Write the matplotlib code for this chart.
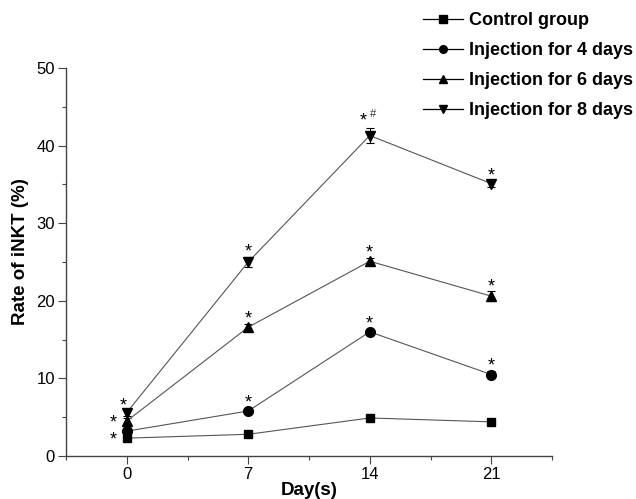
import matplotlib
matplotlib.use("Agg")
import matplotlib.pyplot as plt
from matplotlib.lines import Line2D

plt.rcParams['font.family'] = ['Liberation Sans', 'DejaVu Sans']

days = [0, 7, 14, 21]
labels = ["Control group", "Injection for 4 days", "Injection for 6 days", "Injection for 8 days"]
control = [2.3, 2.8, 4.9, 4.4]
inj4 = [3.2, 5.8, 16.0, 10.5]
inj6 = [4.5, 16.6, 25.1, 20.6]
inj8 = [5.6, 25.0, 41.3, 35.1]
err_control = [0.2, 0.2, 0.2, 0.2]
err4 = [0.3, 0.3, 0.3, 0.4]
err6 = [0.4, 0.4, 0.4, 0.6]
err8 = [0.4, 0.7, 1.0, 0.4]
markers = ["s", "o", "^", "v"]
msizes = [6, 7, 7.5, 7.5]

# significance marks: (series index, day index, text)
sig_marks = [
    (0, 0, "*"), (2, 0, "*"), (3, 0, "*"),
    (1, 1, "*"), (2, 1, "*"), (3, 1, "*"),
    (1, 2, "*"), (2, 2, "*"), (3, 2, "*#"),
    (1, 3, "*"), (2, 3, "*"), (3, 3, "*"),
]

W, H = 636, 499
fig = plt.figure(figsize=(W/100, H/100), dpi=100)
ax = fig.add_axes([66/W, 43/H, (552-66)/W, (456-68)/H])

series = [control, inj4, inj6, inj8]
errs = [err_control, err4, err6, err8]
for vals, e, m, ms, lab in zip(series, errs, markers, msizes, labels):
    ax.errorbar(days, vals, yerr=e, color='#555555', lw=0.8, marker=m,
                markersize=ms, mfc='black', mec='black', ecolor='black',
                elinewidth=0.8, capsize=3, capthick=0.8, label=lab)

PX = 0.72  # points per pixel
YPX = (456 - 68) / 50.0  # pixels per data unit
for si, di, txt in sig_marks:
    x = days[di]
    y = series[si][di]
    if di == 0:
        # at day 0 the stars sit to the left of the points
        dx, dy = (-4, 11) if si == 3 else (-14, 2)
        ax.annotate("*", (x, y), xytext=(dx*PX, (dy-4)*PX), textcoords='offset points',
                    ha='center', va='center', fontsize=13)
    else:
        epx = errs[si][di] * YPX
        up = max(12, epx + 9)
        if txt == "*#":
            ax.annotate("*", (x, y), xytext=(-6*PX, (up + 2 - 4)*PX), textcoords='offset points',
                        ha='center', va='center', fontsize=13)
            ax.annotate("#", (x, y), xytext=(3*PX, (up + 5)*PX), textcoords='offset points',
                        ha='center', va='center', fontsize=8, color='#333333')
        else:
            ax.annotate("*", (x, y), xytext=(0, (up - 4)*PX), textcoords='offset points',
                        ha='center', va='center', fontsize=13)

ax.set_xlim(-3.5, 24.5)
ax.set_ylim(0, 50)
ax.set_xticks(days)
ax.set_xticks([-3.5, 3.5, 10.5, 17.5, 24.5], minor=True)
ax.set_yticks([0, 10, 20, 30, 40, 50])
ax.set_yticks([5, 15, 25, 35, 45], minor=True)
for s in ['top', 'right']:
    ax.spines[s].set_visible(False)
for s in ['left', 'bottom']:
    ax.spines[s].set_color('#444444')
    ax.spines[s].set_linewidth(1.0)
ax.tick_params(axis='both', which='major', length=6, width=0.8, color='#444444',
               labelsize=12, pad=2)
ax.tick_params(axis='both', which='minor', length=3, width=0.8, color='#444444')
ax.set_xlabel("Day(s)", fontsize=13.5, fontweight='bold', labelpad=0)
ax.set_ylabel("Rate of iNKT (%)", fontsize=13.5, fontweight='bold')
ax.yaxis.set_label_coords(-(66-29)/(552-66), (456-252)/(456-68))

handles = [Line2D([], [], color='black', lw=0.9, marker=m, markersize=5.5,
                  mfc='black', mec='black') for m in markers]
fig.legend(handles=handles, labels=labels, loc='upper left',
           bbox_to_anchor=(423/W, 1 - 12/H), frameon=False, borderpad=0,
           borderaxespad=0, prop={'weight': 'bold', 'size': 13},
           labelspacing=0.72, handlelength=2.2, handletextpad=0.35)

fig.savefig("out.png", dpi=100)
